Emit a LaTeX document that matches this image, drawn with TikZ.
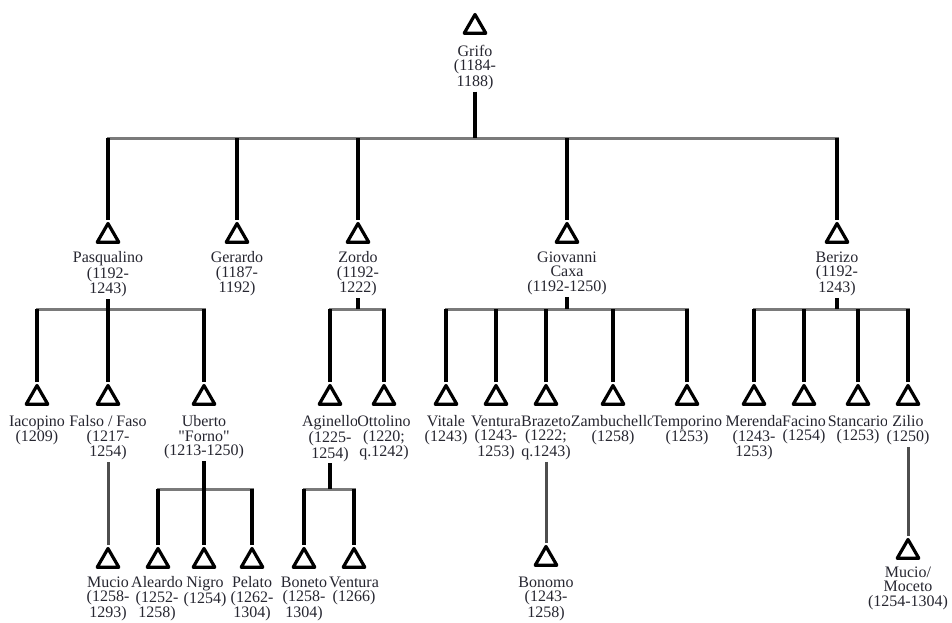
\documentclass[tikz,border=0pt]{standalone}
\usepackage{fontspec}
\setmainfont{Liberation Serif}[Ligatures=TeXOff]
\usetikzlibrary{shapes.geometric,positioning}
\definecolor{buscol}{RGB}{122,122,122}
\definecolor{singlecol}{RGB}{78,78,78}
\definecolor{txtcol}{RGB}{38,38,48}
\begin{document}
\begin{tikzpicture}[x=1pt, y=-1pt,
	sign/.style={regular polygon, regular polygon sides=3, draw, line width=3.2pt, line join=round, minimum size=25pt, inner sep=0pt},
	who/.style={align=center, inner sep=0pt, outer sep=2pt, fill=white, text=txtcol, font=\fontsize{16}{14.5}\selectfont},
	stem/.style={line width=3.2pt},
	bus/.style={line width=3pt, draw=buscol, line cap=rect},
	single/.style={line width=3pt, draw=singlecol}]
	\useasboundingbox (0,0) rectangle (952,622);

	\node[sign] (Grifo) at (475,27) {};
	\node[who, below=8pt of Grifo] (GrifoL) {Grifo\\(1184-\\1188)};

	\node[sign] (Pasqualino) at (108,236) {};
	\node[sign] (Gerardo) at (237,236) {};
	\node[sign] (Zordo) at (358,236) {};
	\node[sign] (Giovanni) at (567,236) {};
	\node[sign] (Berizo) at (837,236) {};
	\node[who, below=6pt of Pasqualino] (PasqualinoL) {Pasqualino\\(1192-\\1243)};
	\node[who, below=6pt of Gerardo] (GerardoL) {Gerardo\\(1187-\\1192)};
	\node[who, below=6pt of Zordo] (ZordoL) {Zordo\\(1192-\\1222)};
	\node[who, below=6pt of Giovanni] (GiovanniL) {Giovanni\\Caxa\\(1192-1250)};
	\node[who, below=6pt of Berizo] (BerizoL) {Berizo\\(1192-\\1243)};

	\node[sign] (Iacopino) at (37,398) {};
	\node[sign] (Falso) at (108,398) {};
	\node[sign] (Uberto) at (204,398) {};
	\node[sign] (Aginello) at (330,398) {};
	\node[sign] (Ottolino) at (384,398) {};
	\node[sign] (Vitale) at (446,398) {};
	\node[sign] (VenturaA) at (496,398) {};
	\node[sign] (Brazeto) at (546,398) {};
	\node[sign] (Zambuchello) at (613,398) {};
	\node[sign] (Temporino) at (687,398) {};
	\node[sign] (Merenda) at (754,398) {};
	\node[sign] (Facino) at (804,398) {};
	\node[sign] (Stancario) at (858,398) {};
	\node[sign] (Zilio) at (908,398) {};
	\node[who, below=8pt of Iacopino] (IacopinoL) {Iacopino\\(1209)};
	\node[who, below=8pt of Falso] (FalsoL) {Falso / Faso\\(1217-\\1254)};
	\node[who, below=8pt of Uberto] (UbertoL) {Uberto\\"Forno"\\(1213-1250)};
	\node[who, below=8pt of Aginello] (AginelloL) {Aginello\\(1225-\\1254)};
	\node[who, below=8pt of Ottolino] (OttolinoL) {Ottolino\\(1220;\\q.1242)};
	\node[who, below=8pt of Vitale] (VitaleL) {Vitale\\(1243)};
	\node[who, below=8pt of VenturaA] (VenturaAL) {Ventura\\(1243-\\1253)};
	\node[who, below=8pt of Brazeto] (BrazetoL) {Brazeto\\(1222;\\q.1243)};
	\node[who, below=8pt of Zambuchello] (ZambuchelloL) {Zambuchello\\(1258)};
	\node[who, below=8pt of Temporino] (TemporinoL) {Temporino\\(1253)};
	\node[who, below=8pt of Merenda] (MerendaL) {Merenda\\(1243-\\1253)};
	\node[who, below=8pt of Facino] (FacinoL) {Facino\\(1254)};
	\node[who, below=8pt of Stancario] (StancarioL) {Stancario\\(1253)};
	\node[who, below=8pt of Zilio] (ZilioL) {Zilio\\(1250)};

	\node[sign] (Mucio) at (108,561) {};
	\node[sign] (Aleardo) at (158,561) {};
	\node[sign] (Nigro) at (204,561) {};
	\node[sign] (Pelato) at (252,561) {};
	\node[sign] (Boneto) at (304,561) {};
	\node[sign] (VenturaB) at (354,561) {};
	\node[sign] (Bonomo) at (546,559) {};
	\node[sign] (Moceto) at (908,552) {};
	\node[who, below=6pt of Mucio] (MucioL) {Mucio\\(1258-\\1293)};
	\node[who, below=6pt of Aleardo, xshift=-1pt] (AleardoL) {Aleardo\\(1252-\\1258)};
	\node[who, below=6pt of Nigro, xshift=1pt] (NigroL) {Nigro\\(1254)};
	\node[who, below=6pt of Pelato] (PelatoL) {Pelato\\(1262-\\1304)};
	\node[who, below=6pt of Boneto] (BonetoL) {Boneto\\(1258-\\1304)};
	\node[who, below=6pt of VenturaB] (VenturaBL) {Ventura\\(1266)};
	\node[who, below=8pt of Bonomo] (BonomoL) {Bonomo\\(1243-\\1258)};
	\node[who, below=5pt of Moceto] (MocetoL) {Mucio/\\Moceto\\(1254-1304)};

	\coordinate (bus0) at (0,138);
	\coordinate (bus1) at (0,309);
	\coordinate (bus2) at (0,489);

	\draw[bus] (Pasqualino.corner 1 |- bus0) -- (Berizo.corner 1 |- bus0);
	\draw[bus] (Iacopino.corner 1 |- bus1) -- (Uberto.corner 1 |- bus1);
	\draw[bus] (Aginello.corner 1 |- bus1) -- (Ottolino.corner 1 |- bus1);
	\draw[bus] (Vitale.corner 1 |- bus1) -- (Temporino.corner 1 |- bus1);
	\draw[bus] (Merenda.corner 1 |- bus1) -- (Zilio.corner 1 |- bus1);
	\draw[bus] (Aleardo.corner 1 |- bus2) -- (Pelato.corner 1 |- bus2);
	\draw[bus] (Boneto.corner 1 |- bus2) -- (VenturaB.corner 1 |- bus2);

	\draw[stem] (GrifoL.south) -- (GrifoL.south |- bus0);
	\foreach \c in {Pasqualino,Gerardo,Zordo,Giovanni,Berizo}
		\draw[stem] (\c.corner 1 |- bus0) -- (\c.corner 1);
	\foreach \p in {PasqualinoL,ZordoL,GiovanniL,BerizoL}
		\draw[stem] (\p.south) -- (\p.south |- bus1);
	\foreach \c in {Iacopino,Falso,Uberto,Aginello,Ottolino,Vitale,VenturaA,Brazeto,Zambuchello,Temporino,Merenda,Facino,Stancario,Zilio}
		\draw[stem] (\c.corner 1 |- bus1) -- (\c.corner 1);
	\foreach \p in {UbertoL,AginelloL}
		\draw[stem] (\p.south) -- (\p.south |- bus2);
	\foreach \c in {Aleardo,Nigro,Pelato,Boneto,VenturaB}
		\draw[stem] (\c.corner 1 |- bus2) -- (\c.corner 1);

	\draw[single] (FalsoL.south) -- (Mucio.corner 1);
	\draw[single] (BrazetoL.south) -- (Bonomo.corner 1);
	\draw[single] (ZilioL.south) -- (Moceto.corner 1);
\end{tikzpicture}
\end{document}
